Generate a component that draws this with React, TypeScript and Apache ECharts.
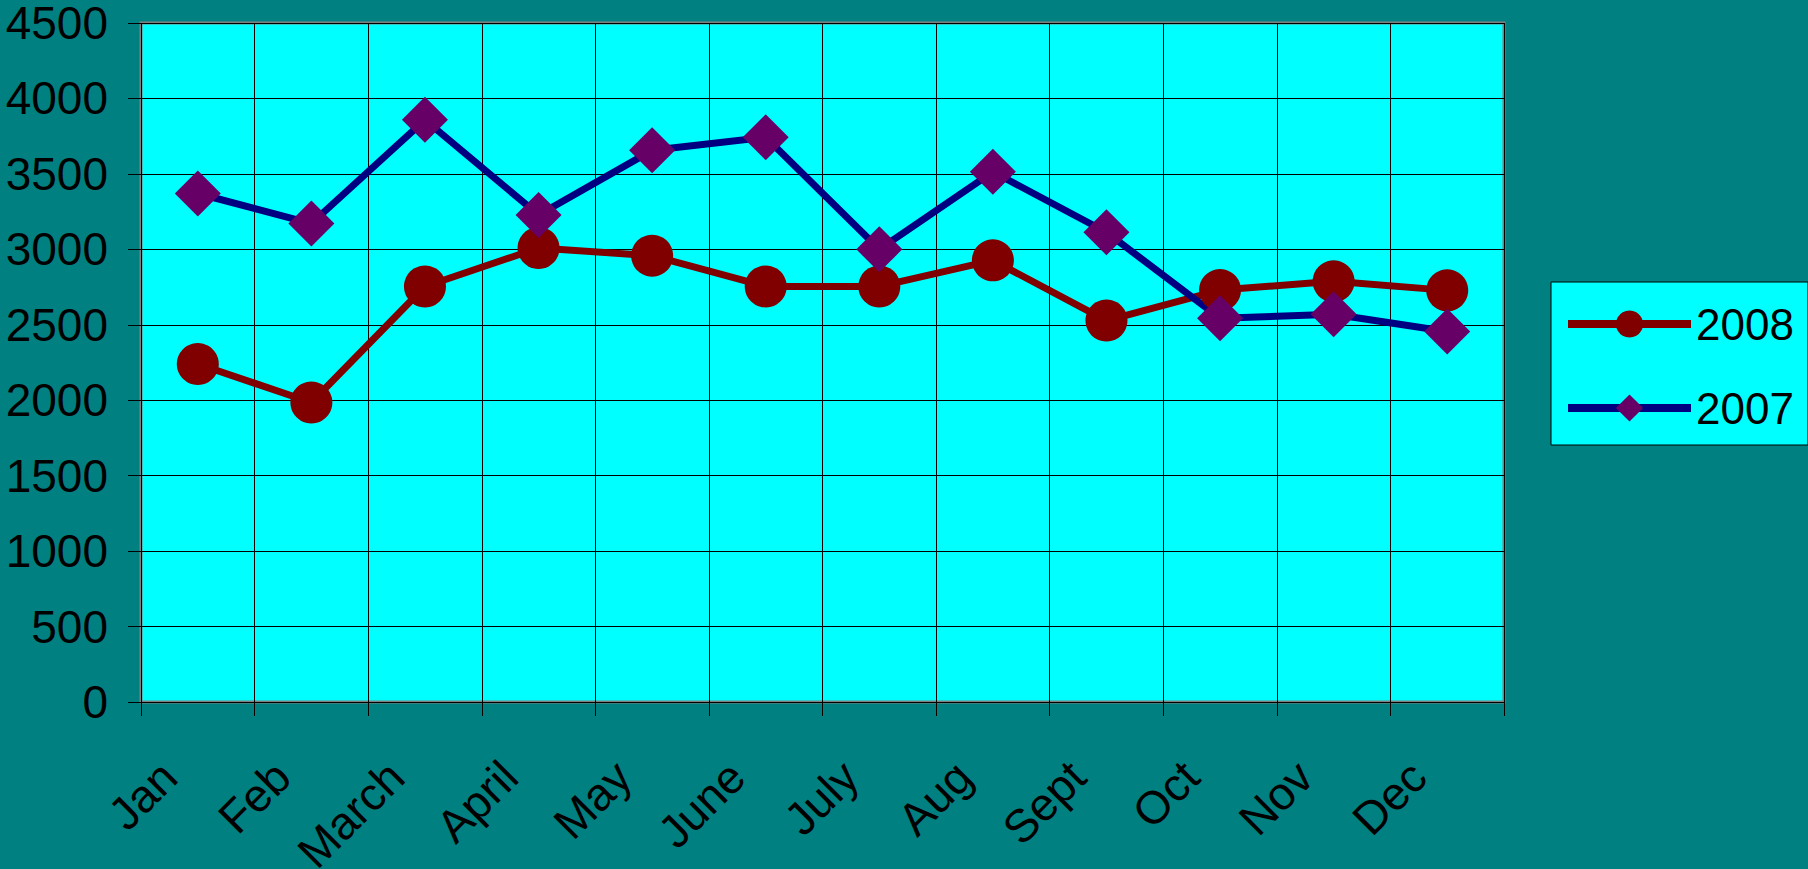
import React, { useEffect, useRef } from "react";
import * as echarts from "echarts";

const months = ["Jan", "Feb", "March", "April", "May", "June", "July", "Aug", "Sept", "Oct", "Nov", "Dec"];
const values2008 = [2240, 1985, 2754, 3009, 2958, 2754, 2754, 2927, 2528, 2730, 2788, 2728];
const values2007 = [3370, 3171, 3858, 3228, 3656, 3743, 3000, 3514, 3113, 2543, 2570, 2455];
const yTicks = { min: 0, max: 4500, interval: 500 };

export default function App() {
  const ref = useRef<HTMLDivElement>(null);
  useEffect(() => {
    document.body.style.margin = "0";
    const chart = echarts.init(ref.current!, undefined, { renderer: "svg" });
    const font = "Arial, 'Liberation Sans', sans-serif";
    chart.setOption({
      animation: false,
      backgroundColor: "#008080",
      textStyle: { fontFamily: font },
      grid: {
        left: 141,
        top: 23,
        right: 304,
        bottom: 167,
        containLabel: false,
        outerBoundsMode: "none",
        show: true,
        backgroundColor: "#00FFFF",
        borderColor: "#808080",
        borderWidth: 3,
      },
      legend: {
        orient: "vertical",
        left: 1551,
        top: 282,
        backgroundColor: "#00FFFF",
        borderColor: "#000000",
        borderWidth: 1,
        borderRadius: 0,
        padding: [20, 14, 15, 13],
        itemWidth: 123,
        itemHeight: 34,
        itemGap: 40,
        lineStyle: { width: 8 },
        textStyle: { fontSize: 44, color: "#000000", fontFamily: font },
        data: ["2008", "2007"],
      },
      xAxis: {
        type: "category",
        data: months,
        boundaryGap: true,
        axisLine: { show: false },
        axisTick: { show: true, length: 14, lineStyle: { color: "#000000", width: 1 } },
        splitLine: { show: true, lineStyle: { color: "#000000", width: 1 } },
        axisLabel: {
          rotate: 45,
          interval: 0,
          margin: 38,
          padding: [0, 41, 0, 0],
          fontSize: 46,
          color: "#000000",
          fontFamily: font,
        },
      },
      yAxis: {
        type: "value",
        min: yTicks.min,
        max: yTicks.max,
        interval: yTicks.interval,
        axisLine: { show: false },
        axisTick: { show: true, length: 13, lineStyle: { color: "#000000", width: 1 } },
        splitLine: { show: true, lineStyle: { color: "#000000", width: 1 } },
        axisLabel: {
          margin: 33,
          fontSize: 46,
          lineHeight: 40,
          color: "#000000",
          fontFamily: font,
          formatter: (v: number) => String(v),
        },
      },
      series: [
        {
          name: "2008",
          type: "line",
          data: values2008,
          symbol: "circle",
          symbolSize: 42,
          lineStyle: { color: "#800000", width: 7 },
          itemStyle: { color: "#800000" },
        },
        {
          name: "2007",
          type: "line",
          data: values2007,
          symbol: "diamond",
          symbolSize: 46,
          lineStyle: { color: "#000080", width: 7 },
          itemStyle: { color: "#660066" },
        },
      ],
    });
    return () => chart.dispose();
  }, []);
  return (
    <div
      ref={ref}
      style={{ position: "fixed", left: 0, top: 0, width: 1808, height: 869 }}
    />
  );
}
